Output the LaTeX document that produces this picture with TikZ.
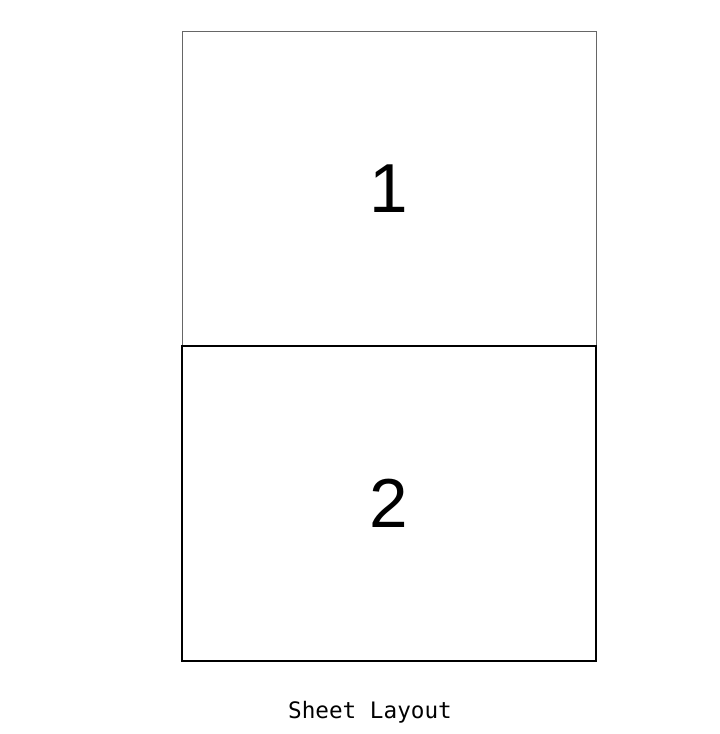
\documentclass[tikz,border=0pt]{standalone}
\usepackage{fontspec}
\setmainfont{Liberation Sans}
\newfontfamily\captionmono{DejaVu Sans Mono}
\usetikzlibrary{positioning}
\tikzset{sheet/.style={rectangle,minimum width=310.5pt,minimum height=236.25pt,inner sep=0pt,outer sep=0pt,font=\fontsize{52}{60}\selectfont},
    upper sheet/.style={sheet,draw=black!60,line width=0.6pt},
    lower sheet/.style={sheet,draw=black,line width=1.5pt},
    caption/.style={font=\captionmono\fontsize{17}{20}\selectfont}}

\begin{document}
\begin{tikzpicture}[x=0.75pt,y=0.75pt]
    \useasboundingbox (0,0) rectangle (719,-734);
    \node[upper sheet] (sheet1) at (389,-188.5) {1};
    \node[lower sheet] (sheet2) at (389,-503.5) {2};
    \node[caption] (title) at (370,-712) {Sheet Layout};
\end{tikzpicture}
\end{document}
